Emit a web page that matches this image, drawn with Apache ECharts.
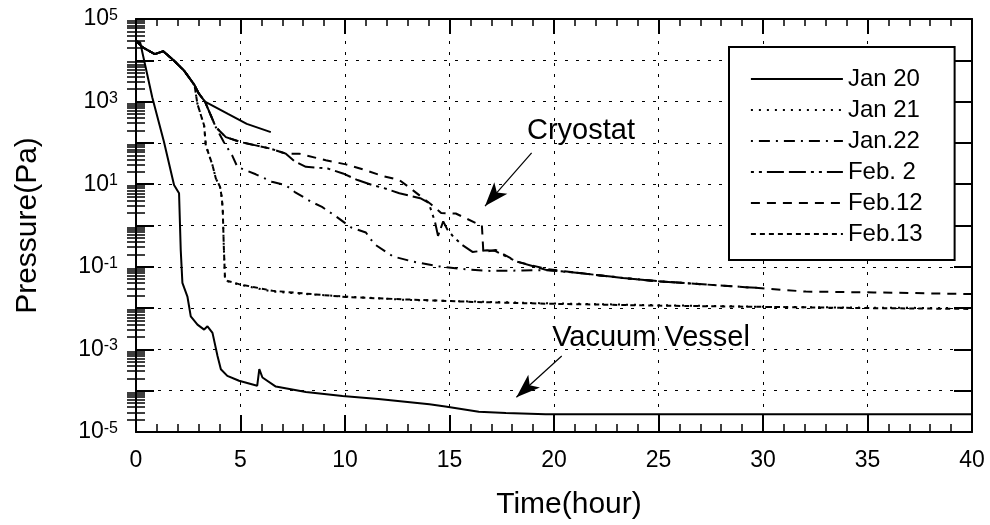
<!DOCTYPE html>
<html>
<head>
<meta charset="utf-8">
<title>Pressure vs time</title>
<script src="https://cdn.jsdelivr.net/npm/echarts@6/dist/echarts.min.js"></script>
<style>
    html, body { margin: 0; padding: 0; background: #fff; }
    #main { width: 990px; height: 525px; }
</style>
</head>
<body>
<div id="main"></div>
<script>
// time in hours, pressure given as log10(Pa) since the axis is logarithmic
var seriesNames = ['Jan 20', 'Jan 21', 'Jan.22', 'Feb. 2', 'Feb.12', 'Feb.13'];

// vacuum vessel, Jan 20
var vacJan20Hour = [0, 0.2, 0.78, 1.34, 1.82, 2.06, 2.14, 2.22, 2.46, 2.62, 2.94, 3.26, 3.42, 3.66, 3.9, 4.06, 4.37, 4.93, 5.8, 5.9, 6.05, 6.69, 8.13, 9.88, 11.6, 14.04, 14.8, 16.4, 17.7, 19.6, 25, 30, 35, 40];
var vacJan20LogP = [4.47, 4.43, 3.1, 2.02, 0.98, 0.78, -0.59, -1.39, -1.72, -2.2, -2.4, -2.52, -2.44, -2.6, -3.16, -3.48, -3.64, -3.76, -3.88, -3.48, -3.68, -3.9, -4.03, -4.13, -4.2, -4.33, -4.38, -4.51, -4.54, -4.57, -4.57, -4.57, -4.57, -4.57];

// cryostat curves
var cryJan20Hour = [0, 0.3, 0.9, 1.3, 1.8, 2.3, 2.8, 3.0, 3.3, 4.4, 5.3, 6.45];
var cryJan20LogP = [4.47, 4.32, 4.15, 4.22, 4.0, 3.75, 3.4, 3.2, 3.0, 2.7, 2.46, 2.26];

var jan21Hour = [0, 0.3, 0.9, 1.3, 1.8, 2.3, 2.8, 2.94, 3.26, 3.34, 3.66, 3.82, 4.02, 4.1, 4.15, 4.2, 4.26, 4.37, 4.93, 6.53, 8.13, 10.05, 12.9, 16.1, 19.3, 25, 30, 35, 40];
var jan21LogP = [4.47, 4.32, 4.15, 4.22, 4.0, 3.75, 3.4, 2.94, 2.42, 1.94, 1.46, 1.14, 0.94, 0.69, 0.4, -0.5, -1.31, -1.35, -1.43, -1.6, -1.66, -1.72, -1.8, -1.84, -1.88, -1.93, -1.97, -1.99, -2.0];

var jan22Hour = [0, 0.3, 0.9, 1.3, 1.8, 2.3, 2.8, 3.0, 3.3, 3.8, 4.2, 4.6, 4.85, 5.73, 6.5, 7.15, 7.6, 8.4, 8.9, 9.6, 10.3, 11.0, 11.4, 12.3, 13.3, 14.5, 15.95, 17.0, 18.5, 19.6, 21.2, 23.3, 25, 27.3, 29.7];
var jan22LogP = [4.47, 4.32, 4.15, 4.22, 4.0, 3.75, 3.4, 3.2, 3.0, 2.4, 2.02, 1.7, 1.42, 1.24, 1.06, 0.98, 0.81, 0.57, 0.45, 0.21, -0.05, -0.17, -0.45, -0.75, -0.88, -0.99, -1.07, -1.1, -1.09, -1.08, -1.15, -1.27, -1.35, -1.43, -1.51];

var feb2Hour = [0, 0.3, 0.9, 1.3, 1.8, 2.3, 2.8, 3.0, 3.3, 3.82, 4.3, 5.0, 5.73, 6.45, 7.17, 7.6, 8.13, 9.17, 9.9, 10.6, 11.3, 11.9, 12.6, 13.6, 14.0, 14.3, 14.45, 14.7, 14.9, 15.2, 15.6, 16.1, 16.8, 17.2, 18.2, 19.6, 21.2, 23.3, 25, 27];
var feb2LogP = [4.47, 4.32, 4.15, 4.22, 4.0, 3.75, 3.4, 3.2, 3.0, 2.38, 2.14, 2.02, 1.94, 1.86, 1.74, 1.55, 1.42, 1.38, 1.26, 1.1, 0.98, 0.9, 0.78, 0.66, 0.55, 0.1, -0.25, 0.1, -0.1, -0.28, -0.47, -0.64, -0.6, -0.62, -0.87, -1.07, -1.15, -1.27, -1.35, -1.42];

var feb12Hour = [0, 0.3, 0.9, 1.3, 1.8, 2.3, 2.8, 3.0, 3.3, 3.82, 4.3, 5.0, 5.73, 6.45, 7.17, 7.8, 9.08, 10.04, 10.84, 11.8, 12.6, 13.0, 14.1, 14.6, 15.3, 16.3, 16.55, 16.62, 17.2, 18.2, 19.6, 21.2, 23.3, 24.9, 27.3, 29.65, 32.05, 35.3, 38.8, 40];
var feb12LogP = [4.47, 4.32, 4.15, 4.22, 4.0, 3.75, 3.4, 3.2, 3.0, 2.38, 2.14, 2.02, 1.94, 1.86, 1.74, 1.74, 1.58, 1.48, 1.36, 1.2, 1.1, 0.95, 0.52, 0.3, 0.29, 0.05, 0.0, -0.65, -0.59, -0.87, -1.05, -1.15, -1.27, -1.35, -1.43, -1.51, -1.6, -1.62, -1.65, -1.66];

var feb13Hour = [0, 0.3, 0.9, 1.3, 1.8, 2.3, 2.8, 2.94, 3.26, 3.34, 3.66, 3.82, 4.02, 4.1, 4.15, 4.2, 4.26, 4.37, 4.93, 6.53, 8.13, 10.05, 12.9, 16.1, 19.3, 25, 30, 35, 40];
var feb13LogP = [4.47, 4.32, 4.15, 4.22, 4.0, 3.75, 3.4, 2.94, 2.42, 1.94, 1.46, 1.14, 0.94, 0.69, 0.4, -0.5, -1.31, -1.34, -1.42, -1.58, -1.65, -1.73, -1.79, -1.85, -1.89, -1.94, -1.97, -2.0, -2.02];

// axis ticks
var xTickStep = 5;
var yDecades = [-5, -4, -3, -2, -1, 0, 1, 2, 3, 4, 5];

(function () {

    var font = '"Liberation Sans", Arial, Helvetica, sans-serif';
    var myChart = echarts.init(document.getElementById('main'));

    // log-spaced minor ticks between the decades
    var minorLogTicks = [];
    for (var d = 0; d < yDecades.length - 1; d++) {
        for (var k = 2; k <= 9; k++) {
            minorLogTicks.push(yDecades[d] + Math.log10(k));
        }
    }

    var zip = function (hours, logp) {
        return hours.map(function (h, i) { return [h, logp[i]]; });
    };

    var line = function (name, hours, logp, dash) {
        return {
            name: name,
            type: 'line',
            data: zip(hours, logp),
            symbol: 'none',
            showSymbol: false,
            lineStyle: { color: '#000', width: 2, type: dash },
            itemStyle: { color: '#000' },
            emphasis: { disabled: true },
            z: 3
        };
    };

    var vessel = line('Jan 20', vacJan20Hour, vacJan20LogP, 'solid');
    vessel.markLine = {
        silent: true,
        symbol: ['none', 'arrow'],
        label: { show: false },
        lineStyle: { color: '#000', width: 1.2, type: 'solid' },
        emphasis: { disabled: true },
        data: [
            [{ coord: [18.93, 1.76] }, { coord: [16.7, 0.47], symbolSize: [13, 24] }],
            [{ coord: [20.37, -3.16] }, { coord: [18.2, -4.16], symbolSize: [13, 24] }]
        ]
    };

    var series = [
        vessel,
        line('Jan 20', cryJan20Hour, cryJan20LogP, 'solid'),
        line('Jan 21', jan21Hour, jan21LogP, [2, 6]),
        line('Jan.22', jan22Hour, jan22LogP, [2, 6, 11, 6]),
        line('Feb. 2', feb2Hour, feb2LogP, [3, 5, 3, 5, 17, 5, 17, 5]),
        line('Feb.12', feb12Hour, feb12LogP, [9, 7]),
        line('Feb.13', feb13Hour, feb13LogP, [5, 4])
    ];

    var gridLine = { show: true, lineStyle: { color: '#000', width: 1, type: [3, 8] } };
    var axisLine = { show: true, onZero: false, lineStyle: { color: '#000', width: 2 } };

    var option = {
        animation: false,
        textStyle: { fontFamily: font, color: '#000' },
        grid: { left: 136, right: 18, top: 19, bottom: 92, containLabel: false },
        legend: {
            data: seriesNames,
            orient: 'vertical',
            left: 729,
            top: 47,
            padding: [20, 32, 14, 21],
            itemWidth: 92,
            itemHeight: 14,
            itemGap: 7,
            borderColor: '#000',
            borderWidth: 2,
            backgroundColor: '#fff',
            selectedMode: false,
            itemStyle: { opacity: 0, borderWidth: 0 },
            lineStyle: { width: 1.8 },
            textStyle: { fontFamily: font, fontSize: 24, lineHeight: 24, color: '#000' }
        },
        xAxis: [
            {
                type: 'value', min: 0, max: 40, interval: xTickStep, position: 'bottom',
                axisLine: axisLine,
                axisTick: { inside: true, length: 17, lineStyle: { color: '#000', width: 2 } },
                minorTick: { show: true, splitNumber: 5, length: 8, lineStyle: { color: '#000', width: 1.5 } },
                axisLabel: { fontSize: 23, color: '#000', margin: 17, fontFamily: font },
                splitLine: gridLine,
                name: 'Time(hour)',
                nameLocation: 'middle',
                nameGap: 58,
                nameTextStyle: { fontSize: 30, color: '#000', fontFamily: font, padding: [0, 0, 0, 30] }
            },
            {
                type: 'value', min: 0, max: 40, interval: xTickStep, position: 'top',
                axisLine: axisLine,
                axisTick: { inside: true, length: 15, lineStyle: { color: '#000', width: 2 } },
                minorTick: { show: true, splitNumber: 5, length: 7, lineStyle: { color: '#000', width: 1.5 } },
                axisLabel: { show: false },
                splitLine: { show: false }
            }
        ],
        yAxis: [
            {
                type: 'value', min: -5, max: 5, interval: 1, position: 'left',
                axisLine: axisLine,
                axisTick: { inside: true, length: 18, lineStyle: { color: '#000', width: 2 } },
                axisLabel: {
                    margin: 18,
                    formatter: function (v) {
                        if (Math.abs(v) % 2 !== 1) return '';
                        return '{b|10}{s|' + v + '}';
                    },
                    rich: {
                        b: { fontSize: 23, fontFamily: font, color: '#000' },
                        s: { fontSize: 16, fontFamily: font, color: '#000', verticalAlign: 'top' }
                    }
                },
                splitLine: gridLine,
                name: 'Pressure(Pa)',
                nameLocation: 'middle',
                nameGap: 93,
                nameTextStyle: { fontSize: 30, color: '#000', fontFamily: font }
            },
            {
                type: 'value', min: -5, max: 5, interval: 1, position: 'right',
                axisLine: axisLine,
                axisTick: { inside: true, length: 18, lineStyle: { color: '#000', width: 2 } },
                axisLabel: { show: false },
                splitLine: { show: false }
            },
            {
                type: 'value', min: -5, max: 5, position: 'left',
                axisLine: { show: false },
                axisTick: { inside: true, length: 9, customValues: minorLogTicks, lineStyle: { color: '#000', width: 1.5 } },
                axisLabel: { show: false },
                splitLine: { show: false }
            },
            {
                type: 'value', min: -5, max: 5, position: 'right',
                axisLine: { show: false },
                axisTick: { inside: true, length: 9, customValues: minorLogTicks, lineStyle: { color: '#000', width: 1.5 } },
                axisLabel: { show: false },
                splitLine: { show: false }
            }
        ],
        graphic: [
            {
                type: 'text', x: 581, y: 131,
                style: { text: 'Cryostat', fontSize: 29, fontFamily: font, fill: '#000', textAlign: 'center', textVerticalAlign: 'middle' }
            },
            {
                type: 'text', x: 651, y: 338,
                style: { text: 'Vacuum Vessel', fontSize: 29, fontFamily: font, fill: '#000', textAlign: 'center', textVerticalAlign: 'middle' }
            }
        ],
        series: series
    };

    myChart.setOption(option);

})();
</script>
</body>
</html>
